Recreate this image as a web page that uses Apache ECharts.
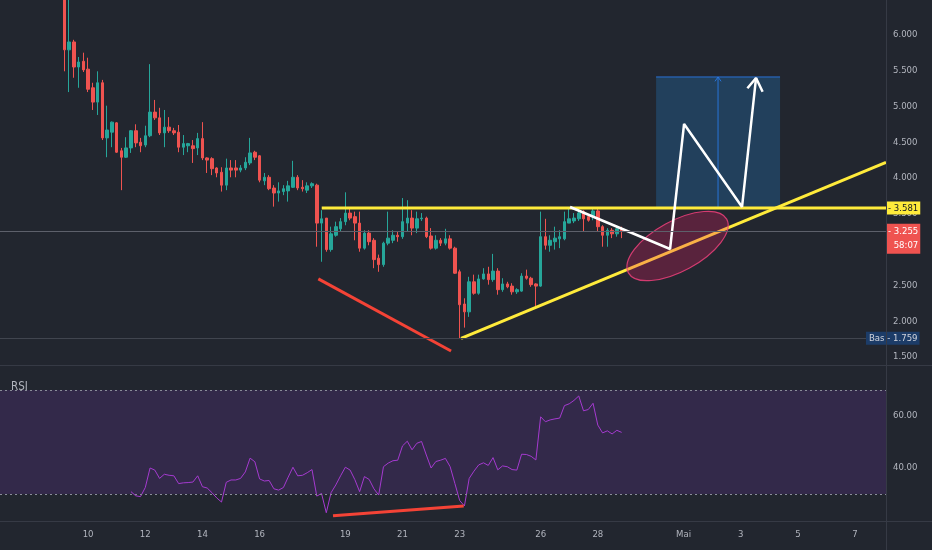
<!DOCTYPE html>
<html><head><meta charset="utf-8">
<script src="https://cdn.jsdelivr.net/npm/echarts@6/dist/echarts.min.js"></script>
<style>html,body{margin:0;padding:0;background:#22262f;}#c{width:932px;height:550px;}</style>
</head><body><div id="c"></div>
<script>
const FONT = "'Liberation Sans Narrow','DejaVu Sans Condensed','Roboto',sans-serif";

// ---------- time axis (4h bars) ----------
const totalSlots = 186;
const startUTC = Date.UTC(2024, 3, 7, 0);
const missingBarUTC = Date.UTC(2024, 3, 24, 12); // one 4h bar absent in the feed
const firstCandleTime = '04-09 04:00';
const rsiStartTime = '04-11 12:00';
const tickDates = ['04-10','04-12','04-14','04-16','04-19','04-21','04-23','04-26','04-28','05-01','05-03','05-05','05-07'];
const tickLabels = ['10','12','14','16','19','21','23','26','28','Mai','3','5','7'];

// ---------- candles [open, close, low, high] ----------
const candles = [
[6.90,5.79,5.49,7.10],[5.79,5.90,5.20,6.60],[5.90,5.55,5.40,5.93],[5.55,5.62,5.26,5.69],[5.63,5.51,5.48,5.75],
[5.52,5.24,5.20,5.68],[5.26,5.06,4.95,5.33],[5.06,5.33,4.88,5.49],[5.33,4.56,4.53,5.37],[4.56,4.67,4.29,5.01],
[4.64,4.78,4.43,4.79],[4.77,4.36,4.35,4.78],[4.38,4.29,3.83,4.42],[4.29,4.42,4.28,4.57],[4.42,4.66,4.35,4.67],
[4.66,4.49,4.43,4.75],[4.50,4.45,4.36,4.56],[4.46,4.59,4.43,4.73],[4.59,4.92,4.57,5.59],[4.92,4.84,4.81,5.09],
[4.84,4.63,4.60,4.98],[4.63,4.71,4.43,4.95],[4.71,4.66,4.63,4.85],[4.66,4.63,4.60,4.70],[4.64,4.43,4.36,4.74],
[4.43,4.48,4.32,4.60],[4.45,4.48,4.36,4.49],[4.45,4.41,4.21,4.53],[4.42,4.55,4.32,4.63],[4.55,4.28,4.25,4.78],
[4.28,4.25,4.07,4.29],[4.27,4.13,4.04,4.29],[4.14,4.07,4.01,4.15],[4.08,3.90,3.81,4.15],[3.90,4.14,3.83,4.27],
[4.14,4.11,4.01,4.25],[4.14,4.11,4.01,4.25],[4.11,4.14,4.08,4.18],[4.14,4.22,4.11,4.29],[4.21,4.35,4.18,4.56],
[4.36,4.29,4.25,4.38],[4.31,3.97,3.94,4.32],[3.96,4.01,3.90,4.07],[4.01,3.85,3.83,4.04],[3.86,3.79,3.60,3.90],
[3.79,3.82,3.67,3.94],[3.81,3.85,3.76,3.90],[3.82,3.89,3.67,3.96],[3.87,4.01,3.86,4.24],[4.01,3.86,3.83,4.04],
[3.87,3.85,3.81,3.97],[3.83,3.89,3.79,3.94],[3.89,3.92,3.86,3.94],[3.90,3.37,3.04,3.92],[3.37,3.43,2.83,3.55],
[3.44,3.00,2.97,3.44],[3.00,3.22,2.97,3.32],[3.20,3.32,3.18,3.39],[3.29,3.39,3.25,3.44],[3.39,3.51,3.34,3.80],
[3.51,3.44,3.41,3.58],[3.46,3.37,3.13,3.53],[3.37,3.02,2.97,3.53],[3.02,3.23,3.00,3.27],[3.23,3.11,3.06,3.27],
[3.13,2.86,2.74,3.16],[2.88,2.79,2.69,2.93],[2.79,3.09,2.76,3.11],[3.09,3.16,3.06,3.53],[3.13,3.20,3.09,3.27],
[3.20,3.18,3.11,3.25],[3.18,3.39,3.15,3.72],[3.37,3.44,3.25,3.69],[3.44,3.30,3.20,3.55],[3.30,3.43,3.23,3.53],
[3.43,3.44,3.40,3.51],[3.44,3.18,3.16,3.46],[3.19,3.02,3.00,3.30],[3.02,3.13,3.00,3.20],[3.13,3.09,3.05,3.16],
[3.09,3.15,3.06,3.29],[3.15,3.02,3.00,3.20],[3.02,2.67,2.66,3.04],[2.69,2.23,1.759,2.72],[2.24,2.13,1.91,2.32],
[2.13,2.55,2.06,2.62],[2.55,2.39,2.37,2.65],[2.39,2.59,2.37,2.65],[2.59,2.66,2.58,2.74],[2.66,2.58,2.51,2.76],
[2.58,2.70,2.55,2.94],[2.70,2.44,2.37,2.74],[2.44,2.52,2.41,2.60],[2.52,2.48,2.46,2.55],[2.49,2.41,2.37,2.53],
[2.41,2.44,2.38,2.46],[2.42,2.63,2.41,2.67],[2.63,2.60,2.58,2.72],[2.60,2.51,2.48,2.62],[2.52,2.49,2.21,2.53],
[2.49,3.18,2.48,3.53],[3.18,3.06,3.00,3.43],[3.06,3.13,2.97,3.20],[3.11,3.16,3.00,3.32],[3.15,3.18,3.02,3.27],
[3.15,3.39,3.13,3.53],[3.37,3.43,3.37,3.58],[3.40,3.44,3.37,3.51],[3.43,3.51,3.40,3.58],[3.53,3.43,3.25,3.55],
[3.46,3.41,3.39,3.48],[3.46,3.54,3.41,3.58],[3.54,3.32,3.25,3.58],[3.32,3.20,3.04,3.34],[3.20,3.27,3.04,3.30],
[3.27,3.22,3.16,3.30],[3.22,3.29,3.18,3.33],[3.29,3.255,3.16,3.32]
];

// ---------- RSI(14) ----------
const rsi = [
30.9,29.3,29.0,32.5,40.0,39.2,36.0,37.6,37.2,37.0,
34.0,34.3,34.4,34.6,37.0,32.8,32.3,30.5,28.5,26.9,
34.5,35.4,35.4,36.0,38.5,43.8,42.4,35.8,35.0,35.2,
32.0,31.5,32.5,36.5,40.3,37.0,37.2,38.2,39.4,29.2,
30.2,22.8,30.5,33.5,37.0,40.3,39.2,35.5,30.9,36.7,
35.6,32.0,29.6,40.5,41.9,42.8,43.0,48.5,50.3,47.0,
49.5,50.2,45.0,40.0,42.5,43.0,43.7,40.5,34.0,27.5,
25.4,36.0,38.8,41.2,42.0,41.0,44.0,39.3,40.8,40.5,
39.4,39.2,45.3,45.2,44.5,43.1,
59.7,57.8,58.5,58.9,59.2,64.0,64.7,66.0,67.7,62.0,62.5,64.9,56.5,53.5,54.3,53.1,54.5,53.7
];

// ---------- levels & axis ticks ----------
const resistance = 3.581;
const lastPrice = 3.255;
const countdown = '58:07';
const lowPrice = 1.759;
const priceTicks = [1.5,2.0,2.5,3.0,3.5,4.0,4.5,5.0,5.5,6.0];
const rsiTicks = [40, 60];
const rsiBand = [30, 70];

// ---------- drawings (x = bar position, y = price / RSI) ----------
const resistanceLine = [[67.04, 3.581], [185.5, 3.581]];
const supportLine = [[96.29, 1.759], [185.5, 4.219]];
const priceDivLine = [[66.33, 2.590], [94.19, 1.584]];
const rsiDivLine = [[69.41, 21.65], [96.85, 25.38]];
const projection = [[119.17, 3.595], [140.17, 3.008], [143.11, 4.754], [155.28, 3.595], [158.22, 5.397]];
const projectionHead = [[156.4, 5.253], [158.22, 5.397], [159.6, 5.205]];
const targetBox = [[137.23, 5.411], [163.26, 3.581]];
const targetMid = [[150.24, 3.581], [150.24, 5.411]];
const targetMidHead = [[149.6, 5.35], [150.24, 5.411], [150.88, 5.35]];
const zoneCenter = [[141.74, 3.050]];

// ---------- build ----------
const pad2 = n => (n < 10 ? '0' : '') + n;
const categories = [];
for (let t = startUTC; categories.length < totalSlots; t += 4 * 3600e3) {
  if (t === missingBarUTC) continue;
  const d = new Date(t);
  categories.push(pad2(d.getUTCMonth() + 1) + '-' + pad2(d.getUTCDate()) + ' ' + pad2(d.getUTCHours()) + ':00');
}
const c0 = categories.indexOf(firstCandleTime);
const candleData = categories.map((_, i) => (i >= c0 && i < c0 + candles.length) ? candles[i - c0] : '-');
const r0 = categories.indexOf(rsiStartTime);
const rsiData = categories.map((_, i) => (i >= r0 && i < r0 + rsi.length) ? rsi[i - r0] : '-');
const tickMap = {};
tickDates.forEach((d, k) => { tickMap[d + ' 00:00'] = tickLabels[k]; });

const FS = 9.5;
const axisText = { color: '#b2b5be', fontSize: FS, fontFamily: FONT };
const lineS = (data, color, width, z, xi, yi) => ({
  type: 'line', data, xAxisIndex: xi, yAxisIndex: yi, symbol: 'none', z,
  lineStyle: { color, width }, silent: true, animation: false
});

const chart = echarts.init(document.getElementById('c'), null, { renderer: 'canvas' });
chart.setOption({
  backgroundColor: '#22262f',
  animation: false,
  textStyle: { fontFamily: FONT },
  title: { text: 'RSI', left: 6, top: 376, textStyle: { color: '#b2b5be', fontSize: 11.5, fontWeight: 'normal', fontFamily: FONT } },
  grid: [
    { left: 0, right: 46, top: 0, height: 366 },
    { left: 0, right: 46, top: 366, height: 155 }
  ],
  xAxis: [
    { type: 'category', gridIndex: 0, data: categories, boundaryGap: true, show: true,
      axisLine: { show: false }, axisTick: { show: false }, axisLabel: { show: false }, splitLine: { show: false } },
    { type: 'category', gridIndex: 1, data: categories, boundaryGap: true,
      axisLine: { show: false }, axisTick: { show: false }, splitLine: { show: false },
      axisLabel: Object.assign({ margin: 9, interval: (i, v) => tickMap[v] !== undefined, formatter: v => tickMap[v] || '' }, axisText) },
    { type: 'value', gridIndex: 0, min: -0.5, max: totalSlots - 0.5, show: false },
    { type: 'value', gridIndex: 1, min: -0.5, max: totalSlots - 0.5, show: false }
  ],
  yAxis: [
    { type: 'value', gridIndex: 0, position: 'right', min: 1.374, max: 6.486,
      axisLine: { show: false }, axisTick: { show: false }, splitLine: { show: false },
      axisLabel: Object.assign({ margin: 7, customValues: priceTicks, formatter: v => v.toFixed(3) }, axisText) },
    { type: 'value', gridIndex: 1, position: 'right', min: 19.62, max: 79.23,
      axisLine: { show: false }, axisTick: { show: false }, splitLine: { show: false },
      axisLabel: Object.assign({ margin: 7, customValues: rsiTicks, formatter: v => v.toFixed(2) }, axisText) }
  ],
  graphic: [
    { type: 'line', z: 50, shape: { x1: 0, y1: 365.5, x2: 932, y2: 365.5 }, style: { stroke: '#363a45', lineWidth: 1 } },
    { type: 'line', z: 50, shape: { x1: 0, y1: 521.5, x2: 932, y2: 521.5 }, style: { stroke: '#363a45', lineWidth: 1 } },
    { type: 'line', z: 50, shape: { x1: 886.5, y1: 0, x2: 886.5, y2: 550 }, style: { stroke: '#363a45', lineWidth: 1 } }
  ],
  series: [
    { type: 'candlestick', xAxisIndex: 0, yAxisIndex: 0, data: candleData, barWidth: 3, clip: true, z: 2,
      itemStyle: { color: '#26a69a', color0: '#ef5350', borderColor: '#26a69a', borderColor0: '#ef5350', borderWidth: 1 },
      markLine: { symbol: 'none', silent: true, animation: false, z: 20,
        data: [
          { yAxis: lastPrice, lineStyle: { color: '#5d606b', width: 1, type: 'solid' },
            label: { show: true, position: 'end', distance: 0, offset: [0, 7],
              formatter: '{a|- ' + lastPrice.toFixed(3) + '}\n{b|' + countdown + '}',
              backgroundColor: '#ef5350', padding: [1, 2, 1, 2],
              rich: { a: { color: '#fff', fontSize: FS, lineHeight: 14, fontFamily: FONT },
                      b: { color: '#fff', fontSize: FS, lineHeight: 14, align: 'right', fontFamily: FONT } } } },
          { yAxis: lowPrice, lineStyle: { color: '#41454f', width: 1, type: 'solid' },
            label: { show: true, position: 'end', distance: 0, offset: [-20, 0],
              formatter: 'Bas - ' + lowPrice.toFixed(3), backgroundColor: '#1c3c68', color: '#d1d4dc',
              padding: [2, 2, 1, 3], fontSize: FS, fontFamily: FONT } },
          { yAxis: resistance, lineStyle: { color: 'rgba(0,0,0,0)', width: 1 },
            label: { show: true, position: 'end', distance: 0,
              formatter: '- ' + resistance.toFixed(3), backgroundColor: '#ffeb3b', color: '#131722',
              padding: [2, 2, 1, 2], fontSize: FS, fontFamily: FONT } }
        ] } },
    { type: 'line', data: [], xAxisIndex: 2, yAxisIndex: 0, z: 1, silent: true,
      markArea: { silent: true, itemStyle: { color: 'rgba(33,150,243,0.23)' },
        data: [[{ coord: targetBox[0] }, { coord: targetBox[1] }]] } },
    lineS([[targetBox[0][0], targetBox[0][1]], [targetBox[1][0], targetBox[0][1]]], 'rgba(41,121,230,0.9)', 1, 2, 2, 0),
    lineS(targetMid, 'rgba(41,121,230,0.9)', 1, 2, 2, 0),
    lineS(targetMidHead, 'rgba(41,121,230,0.9)', 1, 2, 2, 0),
    lineS(resistanceLine, '#ffeb3b', 3, 3, 2, 0),
    lineS(supportLine, '#ffeb3b', 3, 3, 2, 0),
    lineS(priceDivLine, '#f44336', 3, 3, 2, 0),
    { type: 'custom', xAxisIndex: 2, yAxisIndex: 0, data: zoneCenter, z: 4, silent: true,
      renderItem: (params, api) => {
        const c = api.coord([api.value(0), api.value(1)]);
        return { type: 'ellipse', x: c[0], y: c[1], rotation: 0.5,
          shape: { cx: 0, cy: 0, rx: 56, ry: 25 },
          style: { fill: 'rgba(233,30,99,0.28)', stroke: 'rgba(236,64,122,0.85)', lineWidth: 1.2 } };
      } },
    lineS(projection, '#ffffff', 2.5, 5, 2, 0),
    lineS(projectionHead, '#ffffff', 2.5, 5, 2, 0),
    { type: 'line', xAxisIndex: 1, yAxisIndex: 1, data: rsiData, symbol: 'none', z: 3,
      lineStyle: { color: '#a53ad0', width: 1 }, silent: true,
      markArea: { silent: true, itemStyle: { color: '#33294a' },
        data: [[{ yAxis: rsiBand[0] }, { yAxis: rsiBand[1] }]] },
      markLine: { silent: true, symbol: 'none', label: { show: false },
        lineStyle: { color: '#8a8d99', width: 1, type: [2, 3] },
        data: [{ yAxis: rsiBand[1] }, { yAxis: rsiBand[0] }] } },
    lineS(rsiDivLine, '#f44336', 3, 4, 3, 1)
  ]
});
</script></body></html>
